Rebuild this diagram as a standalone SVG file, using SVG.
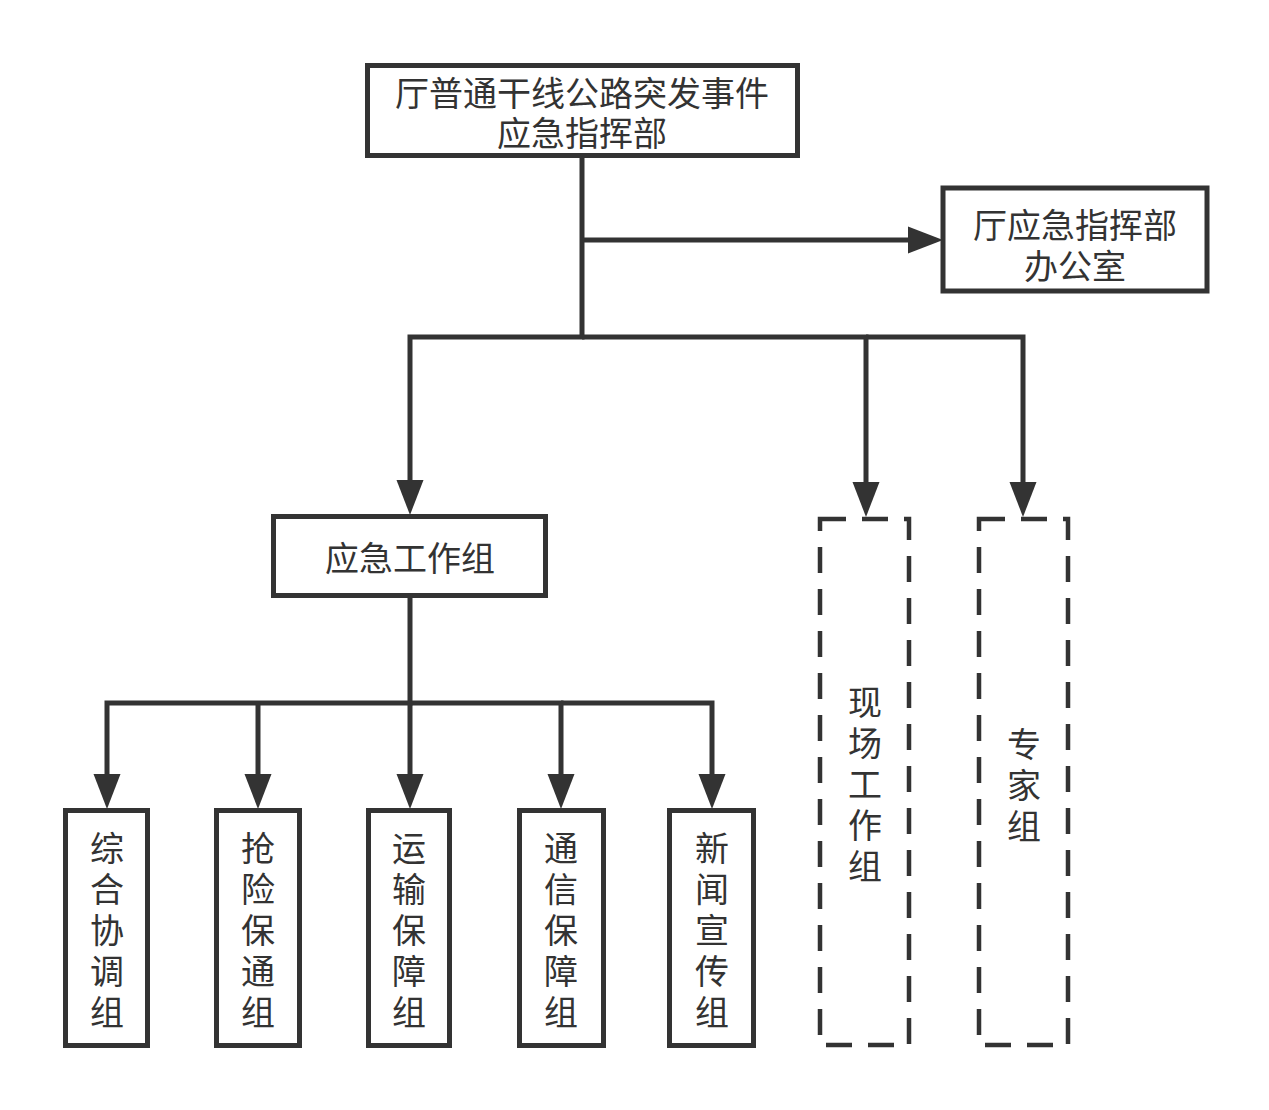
<svg xmlns="http://www.w3.org/2000/svg" width="1269" height="1110" viewBox="0 0 1269 1110">
<style>
.box{fill:#fff;stroke:#333;stroke-width:5}
.dbox{fill:#fff;stroke:#333;stroke-width:4.5;stroke-dasharray:26 16}
.lbl{font-family:"Noto Sans CJK SC","Noto Sans",sans-serif;font-size:34px;fill:#333;text-anchor:middle}
.con{fill:none;stroke:#333;stroke-width:5}
.arr{marker-end:url(#ah)}
</style>
<defs>
<marker id="ah" markerUnits="userSpaceOnUse" markerWidth="40" markerHeight="30" refX="2" refY="13.5" orient="auto" overflow="visible">
<path d="M0,0 L35,13.5 L0,27 Z" fill="#333"/>
</marker>
</defs>
<rect width="1269" height="1110" fill="#fff"/>
<g id="connectors">
<path class="con arr" d="M582,158 L582,337 L410,337 L410,482"/>
<path class="con arr" d="M582,337 L866,337 L866,484"/>
<path class="con arr" d="M866,337 L1023,337 L1023,484"/>
<path class="con arr" d="M582,240 L910,240"/>
<path class="con arr" d="M410,598 L410,703 L107,703 L107,776"/>
<path class="con arr" d="M258,703 L258,776"/>
<path class="con arr" d="M410,703 L410,776"/>
<path class="con arr" d="M410,703 L561,703 L561,776"/>
<path class="con arr" d="M561,703 L712,703 L712,776"/>
</g>
<g id="n-top">
<rect class="box" x="367.5" y="65.5" width="430" height="90"/>
<text class="lbl" x="582" y="106">厅普通干线公路突发事件</text>
<text class="lbl" x="582" y="146">应急指挥部</text>
</g>
<g id="n-office">
<rect class="box" x="943" y="188" width="264" height="103"/>
<text class="lbl" x="1075" y="238">厅应急指挥部</text>
<text class="lbl" x="1075" y="279">办公室</text>
</g>
<g id="n-yjgzz">
<rect class="box" x="273.5" y="516.5" width="272" height="79"/>
<text class="lbl" x="410" y="571">应急工作组</text>
</g>
<g id="n-zhxtz">
<rect class="box" x="65.5" y="810.5" width="82" height="235"/>
<text class="lbl"><tspan x="107" y="861">综</tspan><tspan x="107" y="902">合</tspan><tspan x="107" y="943">协</tspan><tspan x="107" y="984">调</tspan><tspan x="107" y="1025">组</tspan></text>
</g>
<g id="n-qxbtz">
<rect class="box" x="216.5" y="810.5" width="83" height="235"/>
<text class="lbl"><tspan x="258" y="861">抢</tspan><tspan x="258" y="902">险</tspan><tspan x="258" y="943">保</tspan><tspan x="258" y="984">通</tspan><tspan x="258" y="1025">组</tspan></text>
</g>
<g id="n-ysbzz">
<rect class="box" x="368.5" y="810.5" width="81" height="235"/>
<text class="lbl"><tspan x="409" y="861">运</tspan><tspan x="409" y="902">输</tspan><tspan x="409" y="943">保</tspan><tspan x="409" y="984">障</tspan><tspan x="409" y="1025">组</tspan></text>
</g>
<g id="n-txbzz">
<rect class="box" x="519.5" y="810.5" width="84" height="235"/>
<text class="lbl"><tspan x="561" y="861">通</tspan><tspan x="561" y="902">信</tspan><tspan x="561" y="943">保</tspan><tspan x="561" y="984">障</tspan><tspan x="561" y="1025">组</tspan></text>
</g>
<g id="n-xwxcz">
<rect class="box" x="669.5" y="810.5" width="84" height="235"/>
<text class="lbl"><tspan x="712" y="861">新</tspan><tspan x="712" y="902">闻</tspan><tspan x="712" y="943">宣</tspan><tspan x="712" y="984">传</tspan><tspan x="712" y="1025">组</tspan></text>
</g>
<g id="n-xcgzz">
<rect class="dbox" x="820" y="519" width="89" height="526"/>
<text class="lbl"><tspan x="865" y="715">现</tspan><tspan x="865" y="756">场</tspan><tspan x="865" y="797">工</tspan><tspan x="865" y="838">作</tspan><tspan x="865" y="879">组</tspan></text>
</g>
<g id="n-zjz">
<rect class="dbox" x="979" y="519" width="89" height="526"/>
<text class="lbl"><tspan x="1024" y="757">专</tspan><tspan x="1024" y="798">家</tspan><tspan x="1024" y="839">组</tspan></text>
</g>
</svg>
